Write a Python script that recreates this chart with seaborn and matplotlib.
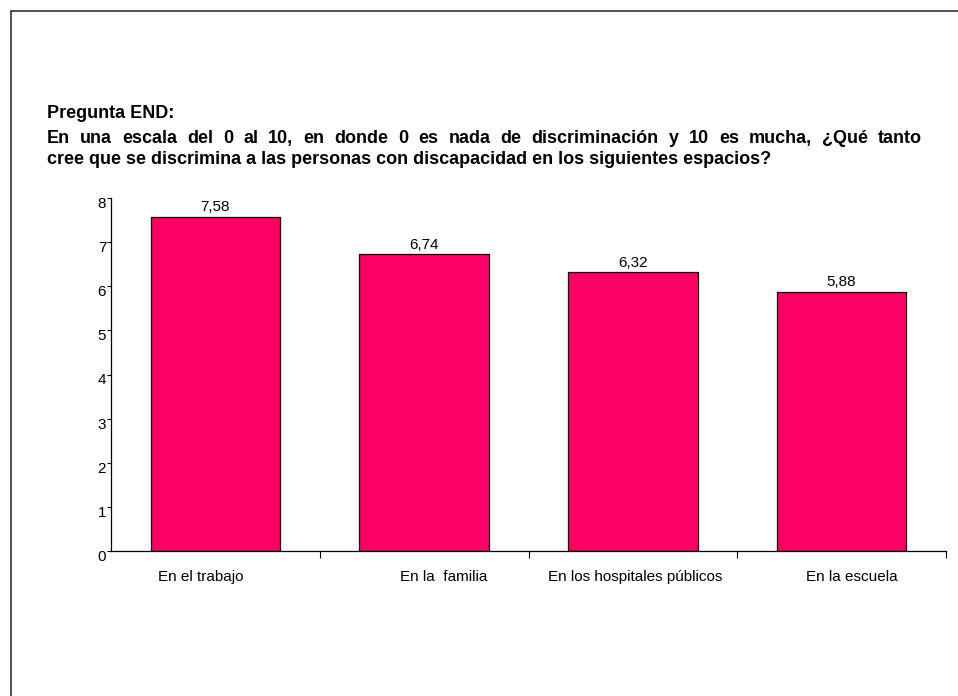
import matplotlib
matplotlib.use("Agg")
import matplotlib.pyplot as plt
import matplotlib.transforms as mtransforms
from matplotlib.lines import Line2D
import seaborn as sns
import pandas as pd

# ---- data ----
categories = ["En el trabajo", "En la  familia", "En los hospitales públicos", "En la escuela"]
values = [7.58, 6.74, 6.32, 5.88]
yticks = [0, 1, 2, 3, 4, 5, 6, 7, 8]
title_head = "Pregunta END:"
title_line2 = "En una escala del 0 al 10, en donde 0 es nada de discriminación y 10 es mucha, ¿Qué tanto"
title_line3 = "cree que se discrimina a las personas con discapacidad en los siguientes espacios?"

W, H = 958, 696
sns.set_theme(style="white")
plt.rcParams['font.family'] = ['Liberation Sans', 'DejaVu Sans']

fig = plt.figure(figsize=(W / 100, H / 100), dpi=100)
fig.patch.set_facecolor("white")
ax = fig.add_axes([111 / W, (H - 551) / H, (946 - 111) / W, (551 - 198) / H])

df = pd.DataFrame({"categoria": categories, "valor": values})
sns.barplot(data=df, x="categoria", y="valor", color="#FF0066", saturation=1,
            width=0.62, edgecolor="black", linewidth=0.9, errorbar=None, ax=ax)

ax.set_xlim(-0.5, 3.5)
ax.set_ylim(0, 8)
ax.set_yticks(yticks)
ax.set_yticklabels([str(t) for t in yticks])
ax.set_xlabel("")
ax.set_ylabel("")
ax.set_facecolor("white")
for s in ["top", "right"]:
    ax.spines[s].set_visible(False)
for s in ["left", "bottom"]:
    ax.spines[s].set_color("black")
    ax.spines[s].set_linewidth(0.9)

ax.tick_params(axis="y", direction="out", length=3, width=0.8, pad=0.5,
               labelsize=11, colors="black", left=True)
ax.tick_params(axis="x", which="major", length=0, pad=14, labelsize=11,
               colors="black", bottom=True)
ax.set_xticks([0.5, 1.5, 2.5, 3.5], minor=True)
ax.tick_params(axis="x", which="minor", direction="out", length=5, width=0.8,
               bottom=True, color="black")

# y tick labels hang below their tick
for lab in ax.get_yticklabels():
    lab.set_verticalalignment("top")
    lab.set_transform(lab.get_transform() + mtransforms.ScaledTranslation(0, 1 / 100, fig.dpi_scale_trans))

# category labels slightly shifted as in the original
label_shift_px = [-15, 20, 2, 10]
for lab, dx in zip(ax.get_xticklabels(), label_shift_px):
    lab.set_transform(lab.get_transform() + mtransforms.ScaledTranslation(dx / 100, 0, fig.dpi_scale_trans))

ax.bar_label(ax.containers[0], labels=[f"{v:.2f}".replace(".", ",") for v in values],
             padding=1.5, fontsize=11, color="black")

# ---- title block ----
renderer = fig.canvas.get_renderer()
kw = dict(fontsize=13, fontweight="bold", color="black", va="baseline", ha="left")

def fx(x):
    return x / W

def fy(y_top):
    return (H - y_top) / H

x_left, x_right = 47, 922
fig.text(fx(x_left), fy(117.5), title_head, **kw)

words = title_line2.split(" ")
texts = [fig.text(0, fy(143), w, **kw) for w in words]
widths = [t.get_window_extent(renderer).width for t in texts]
gap = (x_right - x_left - sum(widths)) / (len(words) - 1)
cur = x_left
for t, w in zip(texts, widths):
    t.set_x(fx(cur))
    cur += w + gap

fig.text(fx(x_left), fy(164), title_line3, **kw)

# ---- frame (top & left edges visible) ----
fig.add_artist(Line2D([10.5 / W, 10.5 / W], [0, fy(10.5)], transform=fig.transFigure,
                      color="#222222", lw=1.1))
fig.add_artist(Line2D([10.5 / W, 1], [fy(10.5), fy(10.5)], transform=fig.transFigure,
                      color="#222222", lw=1.1))

fig.savefig("out.png", dpi=100, facecolor="white")
